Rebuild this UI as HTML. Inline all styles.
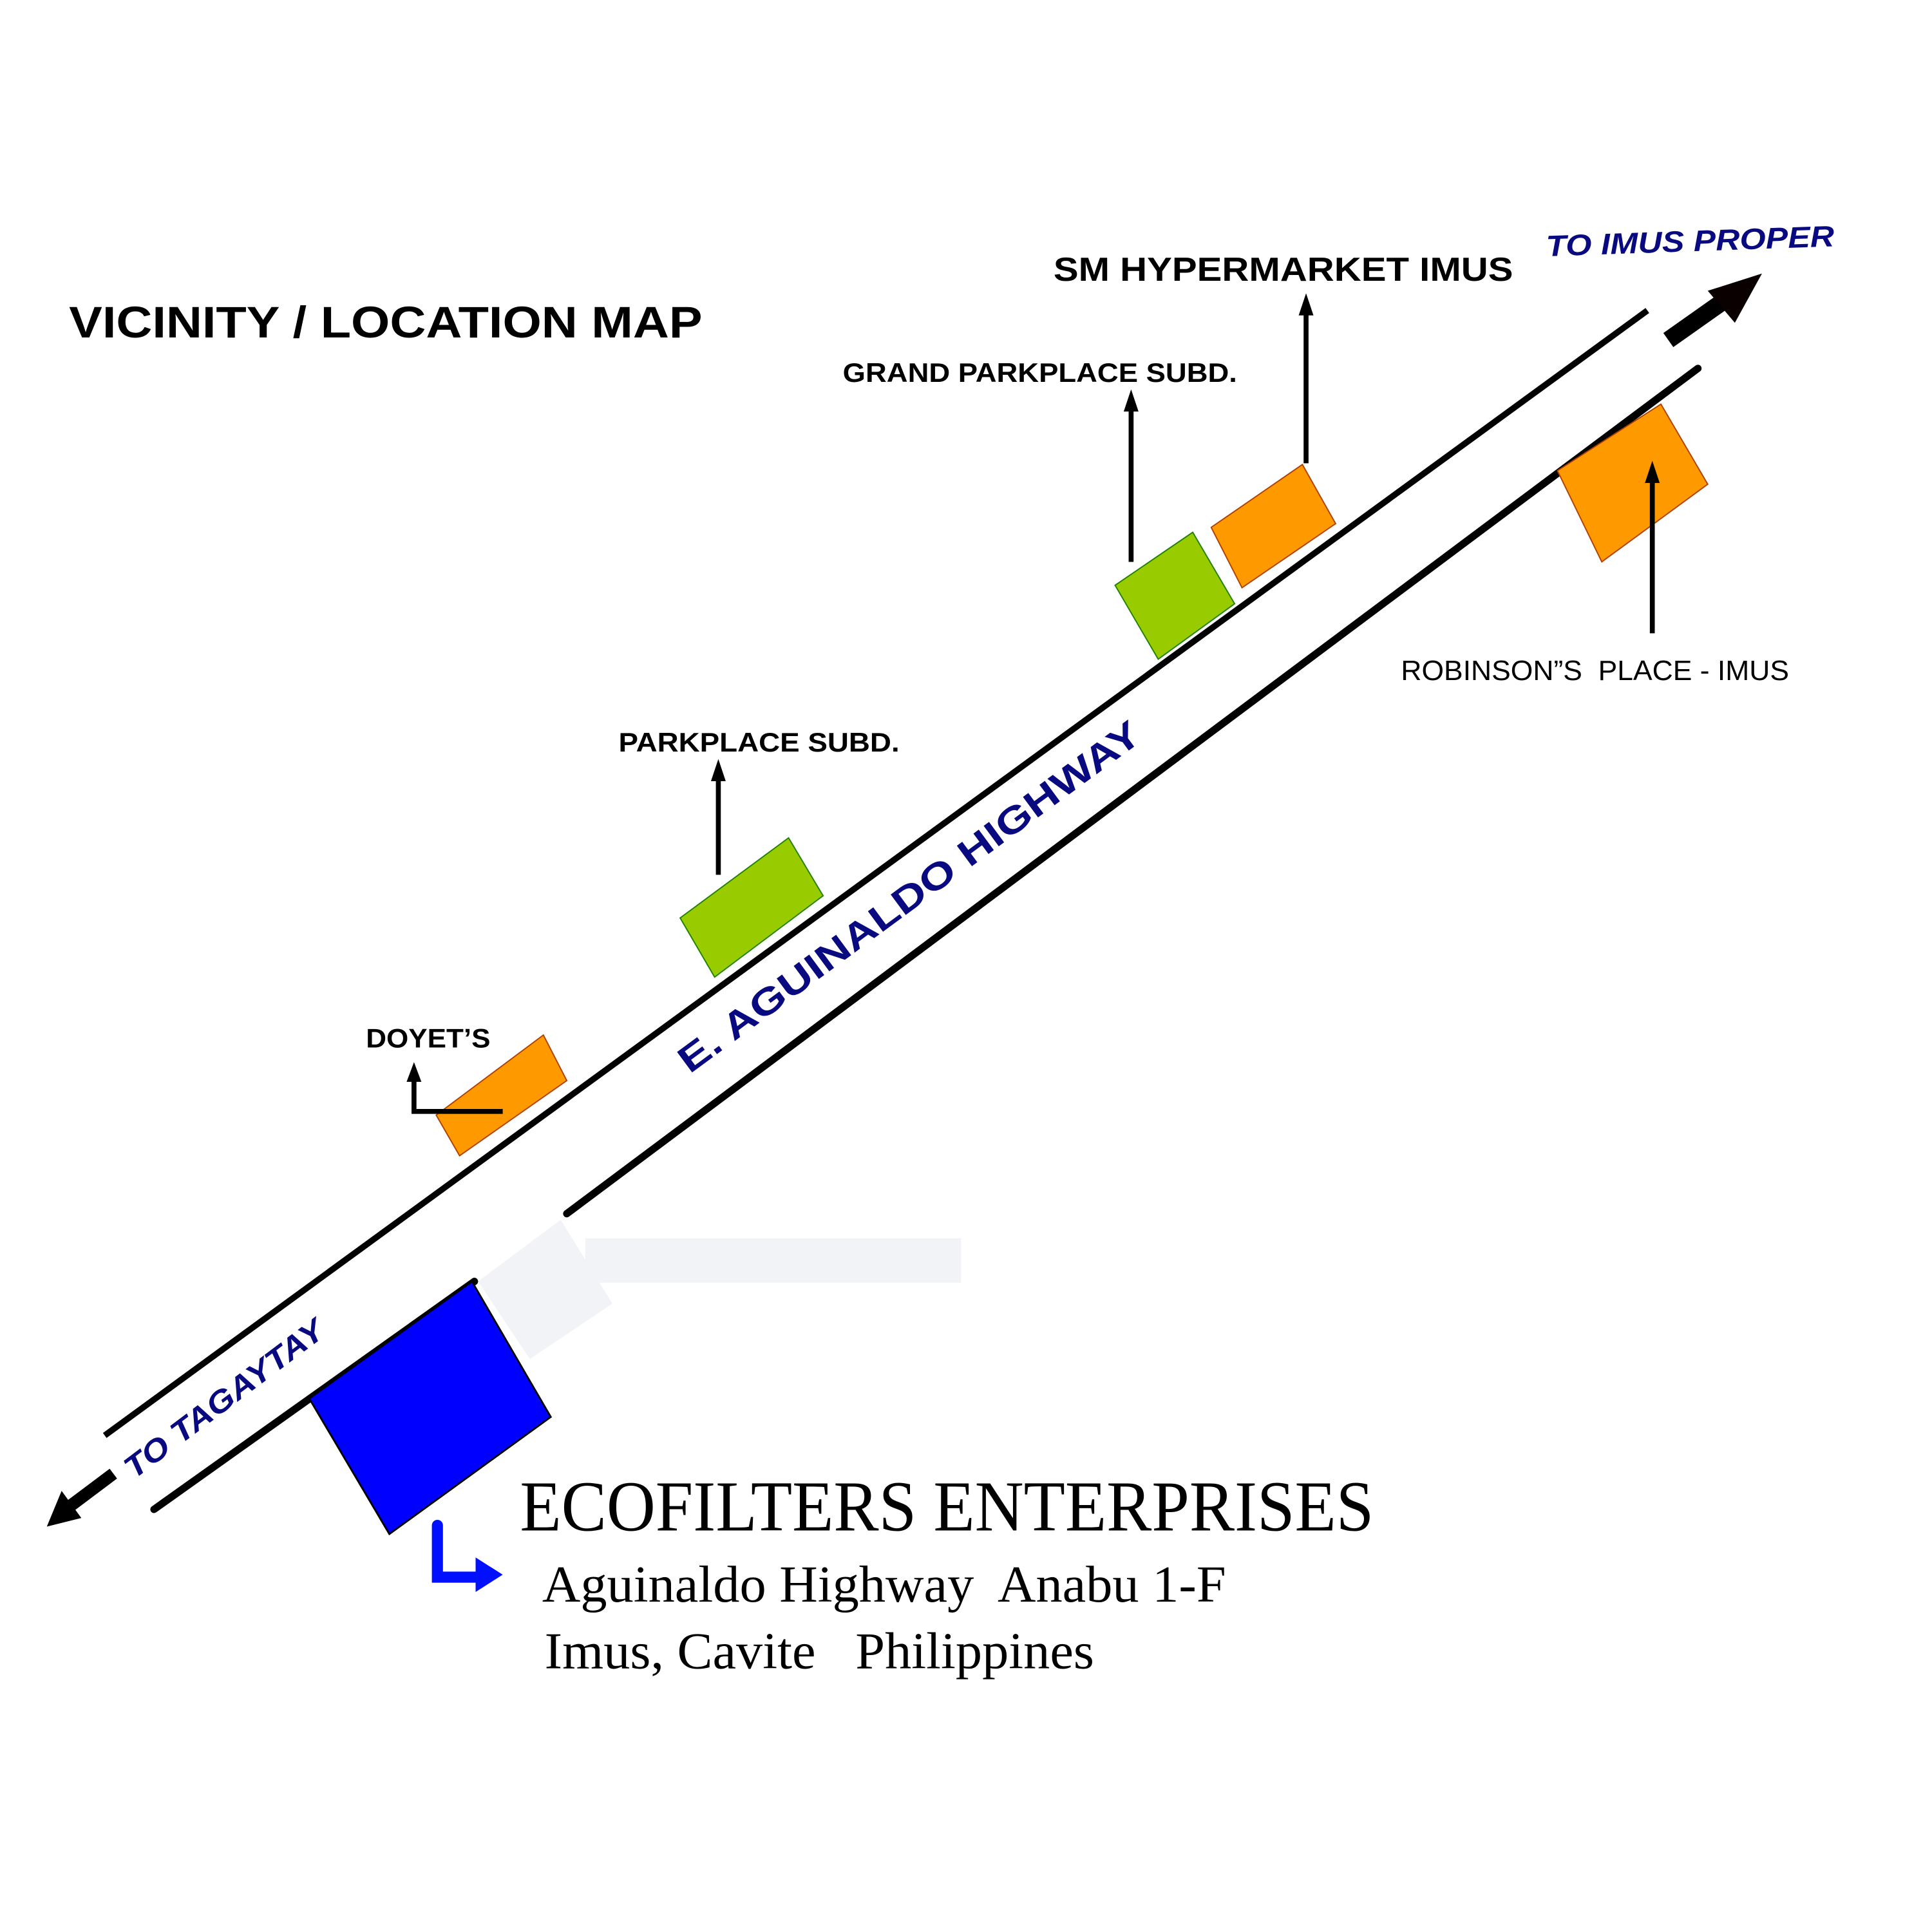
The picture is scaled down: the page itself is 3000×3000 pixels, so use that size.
<!DOCTYPE html>
<html><head><meta charset="utf-8"><style>html,body{margin:0;padding:0;background:#fff}svg{display:block}</style></head>
<body>
<svg width="3000" height="3000" viewBox="0 0 1568 1568" xmlns="http://www.w3.org/2000/svg">
<rect width="1568" height="1568" fill="#fff"/>
<polygon points="388,1040 455,990 497,1058 430,1103" fill="#f2f3f6"/>
<rect x="475" y="1005" width="305" height="36" fill="#f2f3f6"/>
<line x1="85" y1="1165" x2="1337" y2="252" stroke="#000" stroke-width="5"/>
<line x1="125" y1="1225" x2="385" y2="1040" stroke="#000" stroke-width="6" stroke-linecap="round"/>
<line x1="460" y1="985" x2="1378" y2="299" stroke="#000" stroke-width="6" stroke-linecap="round"/>
<line x1="92" y1="1196" x2="52" y2="1226" stroke="#000" stroke-width="10"/>
<polygon points="38,1239 50,1210 66,1232" fill="#000"/>
<line x1="1354" y1="276" x2="1405" y2="240" stroke="#000" stroke-width="14"/>
<polygon points="1430,222 1386,236 1408,262" fill="#0a0000"/>
<polygon points="383,1040 447,1150 316,1245 251,1135" fill="#0000ff" stroke="#000" stroke-width="1.5"/>
<polygon points="354,905 441,840 460,877 373,938" fill="#ff9900" stroke="#b04000" stroke-width="1"/>
<polygon points="552,745 640,680 668,727 580,793" fill="#99cc00" stroke="#208000" stroke-width="1"/>
<polygon points="905,475 968,432 1002,490 940,535" fill="#99cc00" stroke="#208000" stroke-width="1"/>
<polygon points="983,428 1057,377 1084,425 1008,477" fill="#ff9900" stroke="#b04000" stroke-width="1"/>
<polygon points="1264,382 1348,328 1386,393 1300,456" fill="#ff9900" stroke="#b04000" stroke-width="1"/>
<g stroke="#000" stroke-width="4" fill="none">
<line x1="583" y1="710" x2="583" y2="628"/>
<line x1="918" y1="456" x2="918" y2="328"/>
<line x1="1060" y1="376" x2="1060" y2="250"/>
<line x1="1341" y1="514" x2="1341" y2="386"/>
<polyline points="408,902 336,902 336,874"/>
</g>
<g fill="#000">
<polygon points="583,616 577,634 589,634"/>
<polygon points="918,316 912,334 924,334"/>
<polygon points="1060,238 1054,256 1066,256"/>
<polygon points="1341,374 1335,392 1347,392"/>
<polygon points="336,862 330,878 342,878"/>
</g>
<path d="M355,1238 V1280 H388" stroke="#0010ff" stroke-width="9" fill="none" stroke-linecap="round"/>
<polygon points="386,1264 408,1278 386,1292" fill="#0010ff"/>
<g font-family="Liberation Sans, sans-serif" font-weight="bold" fill="#000">
<text x="56" y="274" font-size="36" textLength="514" lengthAdjust="spacingAndGlyphs">VICINITY / LOCATION MAP</text>
<text x="855" y="228" font-size="27" textLength="373" lengthAdjust="spacingAndGlyphs">SM HYPERMARKET IMUS</text>
<text x="684" y="310" font-size="22" textLength="320" lengthAdjust="spacingAndGlyphs">GRAND PARKPLACE SUBD.</text>
<text x="502" y="610" font-size="22" textLength="228" lengthAdjust="spacingAndGlyphs">PARKPLACE SUBD.</text>
<text x="297" y="850" font-size="22" textLength="101" lengthAdjust="spacingAndGlyphs">DOYET’S</text>
</g>
<text x="1137" y="552" font-family="Liberation Sans, sans-serif" font-size="23" fill="#000" textLength="315" lengthAdjust="spacingAndGlyphs">ROBINSON”S&#160; PLACE - IMUS</text>
<g font-family="Liberation Sans, sans-serif" font-weight="bold" fill="#0a0a80">
<text x="1255" y="208" font-size="24" font-style="italic" textLength="234" lengthAdjust="spacingAndGlyphs" transform="rotate(-2 1255 208)">TO IMUS PROPER</text>
<text font-size="30" text-anchor="middle" transform="translate(744,736) rotate(-36.4)" textLength="458" lengthAdjust="spacingAndGlyphs">E. AGUINALDO HIGHWAY</text>
<text font-size="25" font-style="italic" text-anchor="middle" transform="translate(187,1142) rotate(-37)" textLength="196" lengthAdjust="spacingAndGlyphs">TO TAGAYTAY</text>
</g>
<g font-family="Liberation Serif, serif" fill="#000">
<text x="422" y="1242" font-size="58" textLength="693" lengthAdjust="spacingAndGlyphs">ECOFILTERS ENTERPRISES</text>
<text x="440" y="1300" font-size="42" textLength="555" lengthAdjust="spacingAndGlyphs">Aguinaldo Highway&#160; Anabu 1-F</text>
<text x="442" y="1354" font-size="42" textLength="446" lengthAdjust="spacingAndGlyphs">Imus, Cavite&#160;&#160; Philippines</text>
</g>
</svg>
</body></html>
